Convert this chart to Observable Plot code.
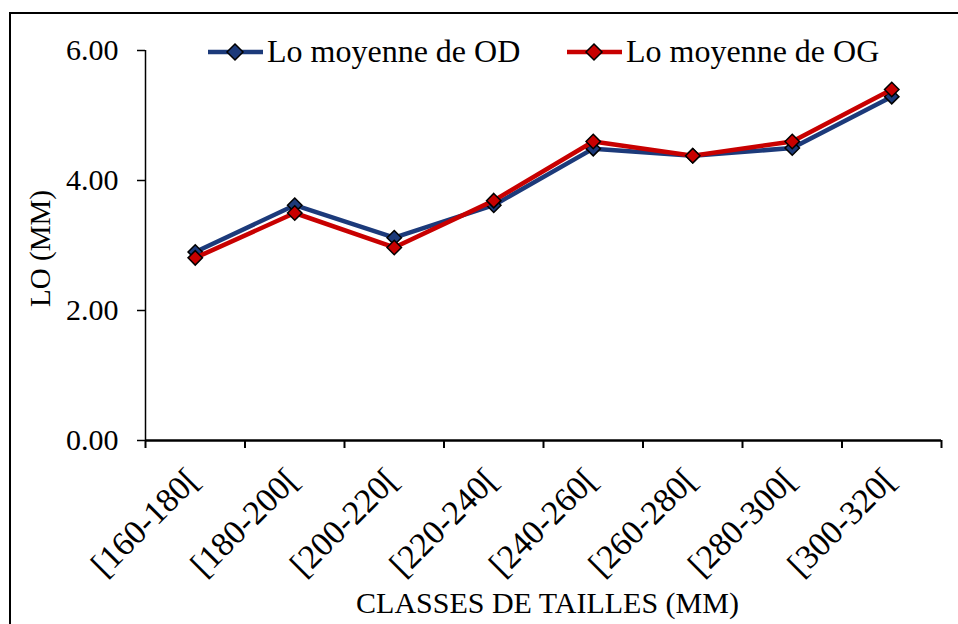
<!DOCTYPE html>
<html>
<head>
<meta charset="utf-8">
<script src="https://cdn.jsdelivr.net/npm/d3@7"></script>
<script src="https://cdn.jsdelivr.net/npm/@observablehq/plot@0.6"></script>
<style>
  html, body { margin: 0; padding: 0; background: #fff; overflow: hidden; }
  #wrap { position: relative; width: 958px; height: 624px; font-family: "Liberation Serif", "Times New Roman", serif; }
  #frame { position: absolute; left: 9px; top: 12px; width: 1000px; height: 700px; border: 2px solid #000; box-sizing: border-box; }
  #legend { position: absolute; left: 0; top: 0; width: 958px; height: 100px; pointer-events: none; }
  .lg { position: absolute; top: 33px; display: flex; align-items: center; font-size: 32px; color: #000; white-space: nowrap; font-family: "Liberation Serif", serif; }
  .lg svg { display: block; }
</style>
</head>
<body>
<div id="wrap">
  <div id="chart"></div>
  <div id="frame"></div>
  <div id="legend"></div>
</div>
<script>
const categories = ["[160-180[", "[180-200[", "[200-220[", "[220-240[", "[240-260[", "[260-280[", "[280-300[", "[300-320["];
const odValues = [2.90, 3.62, 3.12, 3.62, 4.49, 4.38, 4.50, 5.29];
const ogValues = [2.81, 3.50, 2.97, 3.69, 4.60, 4.38, 4.60, 5.40];
const seriesNames = ["Lo moyenne de OD", "Lo moyenne de OG"];
const seriesColors = ["#1c3a7a", "#c80000"];
const yTicks = [0, 2, 4, 6];
const yLabel = "LO (MM)";
const xLabel = "CLASSES DE TAILLES (MM)";

const FONT = "Liberation Serif";
const od = categories.map((c, i) => ({cat: c, pos: i + 0.5, value: odValues[i]}));
const og = categories.map((c, i) => ({cat: c, pos: i + 0.5, value: ogValues[i]}));
const boundaries = d3.range(categories.length + 1);
const centers = categories.map((c, i) => ({pos: i + 0.5, label: c}));
const fmt = d3.format(".2f");
const blank = () => "";

const chart = Plot.plot({
  width: 958,
  height: 624,
  marginLeft: 145,
  marginRight: 17,
  marginTop: 50,
  marginBottom: 184,
  style: {fontFamily: FONT, color: "#000", background: "transparent", overflow: "visible"},
  x: {type: "linear", domain: [0, categories.length]},
  y: {domain: [0, 6]},
  marks: [
    Plot.axisY({ticks: yTicks, tickFormat: blank, tickSize: 8, label: null, stroke: "#000", strokeWidth: 1.5}),
    Plot.axisX({ticks: boundaries, tickFormat: blank, tickSize: 8, label: null, stroke: "#000", strokeWidth: 2}),
    Plot.text(yTicks, {y: d => d, text: d => fmt(d), frameAnchor: "left", textAnchor: "end", lineAnchor: "middle", dx: -27, fontSize: 30, fontFamily: FONT, fill: "#000"}),
    Plot.text(centers, {x: "pos", text: "label", frameAnchor: "bottom", lineAnchor: "middle", textAnchor: "end", rotate: -45, dx: -2, dy: 34, fontSize: 34, fontFamily: FONT, fill: "#000"}),
    Plot.ruleX([0], {y1: 0, y2: 6, stroke: "#000", strokeWidth: 1.5}),
    Plot.ruleY([0], {stroke: "#000", strokeWidth: 2.5}),
    Plot.line(od, {x: "pos", y: "value", stroke: seriesColors[0], strokeWidth: 4.5}),
    Plot.dot(od, {x: "pos", y: "value", symbol: "diamond2", r: 6.5, fill: seriesColors[0], stroke: "#000", strokeWidth: 1.5}),
    Plot.line(og, {x: "pos", y: "value", stroke: seriesColors[1], strokeWidth: 4.5}),
    Plot.dot(og, {x: "pos", y: "value", symbol: "diamond2", r: 6.5, fill: seriesColors[1], stroke: "#000", strokeWidth: 1.5}),
    Plot.text([yLabel], {frameAnchor: "left", textAnchor: "middle", lineAnchor: "middle", rotate: -90, dx: -105, dy: 3, fontSize: 29, fontFamily: FONT, fill: "#000"}),
    Plot.text([xLabel], {frameAnchor: "bottom", textAnchor: "middle", lineAnchor: "middle", dy: 163, dx: 4, fontSize: 30, fontFamily: FONT, fill: "#000"})
  ]
});
document.getElementById("chart").appendChild(chart);

// Legend
const legend = document.getElementById("legend");
const legendLefts = [207, 566];
seriesNames.forEach((name, i) => {
  const div = document.createElement("div");
  div.className = "lg";
  div.style.left = legendLefts[i] + "px";
  div.innerHTML = `<svg width="58" height="20" viewBox="0 0 58 20">
      <line x1="1" y1="10" x2="56" y2="10" stroke="${seriesColors[i]}" stroke-width="4.5"/>
      <path d="M28 2 L36 10 L28 18 L20 10 Z" fill="${seriesColors[i]}" stroke="#000" stroke-width="1.5"/>
    </svg><span style="margin-left:2px">${name}</span>`;
  legend.appendChild(div);
});
</script>
</body>
</html>
